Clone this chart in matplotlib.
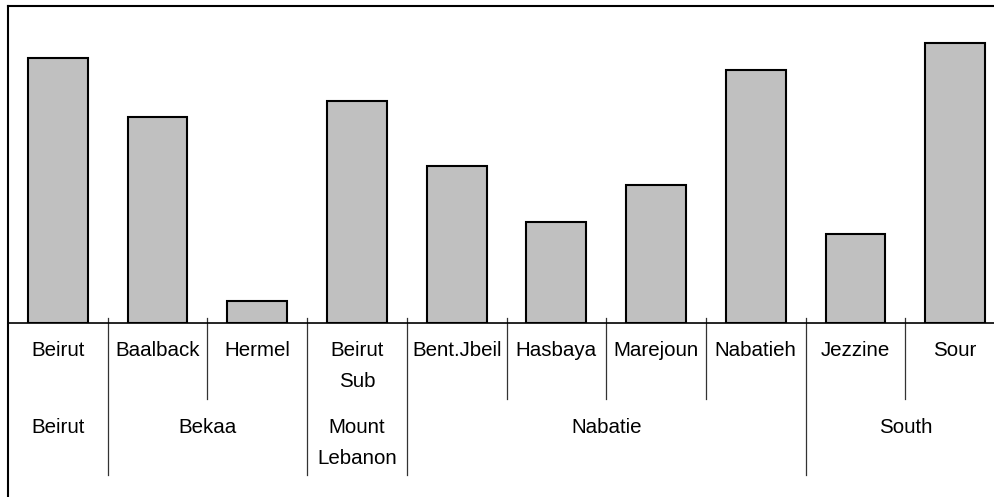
import matplotlib
matplotlib.use('Agg')
import matplotlib.pyplot as plt
from matplotlib.lines import Line2D
import matplotlib.transforms as mtransforms

plt.rcParams['font.family'] = ['Liberation Sans', 'DejaVu Sans']

# 数据
districts = ['Beirut', 'Baalback', 'Hermel', 'Beirut\nSub', 'Bent.Jbeil',
             'Hasbaya', 'Marejoun', 'Nabatieh', 'Jezzine', 'Sour']
values = [265, 206, 22, 222, 157, 101, 138, 253, 89, 280]
governorates = ['Beirut', 'Bekaa', 'Mount\nLebanon', 'Nabatie', 'South']
group_sizes = [1, 2, 1, 4, 2]

W, H = 994, 497
fig = plt.figure(figsize=(W / 100, H / 100), dpi=100)

# 坐标区：左边 x=8，基线 y=323，顶部 y=6（像素）
left_px, base_px, top_px = 8, 323, 6
cat_w = 99.7
ax = fig.add_axes([left_px / W, (H - base_px) / H,
                   len(districts) * cat_w / W, (base_px - top_px) / H])

x = list(range(len(districts)))
ax.bar(x, values, width=0.6, color='#c0c0c0', edgecolor='black', linewidth=1.5, zorder=3)
ax.set_xlim(-0.5, len(districts) - 0.5)
ax.set_ylim(0, base_px - top_px)

for s in ['left', 'right', 'top']:
    ax.spines[s].set_visible(False)
ax.spines['bottom'].set_linewidth(1.2)
ax.set_xticks([])
ax.set_yticks([])

def px_to_ax(ypx):
    return (base_px - ypx) / (base_px - top_px)

trans = mtransforms.blended_transform_factory(ax.transData, ax.transAxes)

# 分隔线
group_bounds = []
pos = 0
for n in group_sizes[:-1]:
    pos += n
    group_bounds.append(pos - 0.5)
for b in [i - 0.5 for i in range(1, len(districts))]:
    y_end = 475 if b in group_bounds else 399
    ax.plot([b, b], [px_to_ax(318), px_to_ax(y_end)], color='#333333', lw=0.9,
            transform=trans, clip_on=False)

# 标签
for i, name in enumerate(districts):
    ax.text(i, px_to_ax(341), name, ha='center', va='top', fontsize=14.8,
            linespacing=1.8, transform=trans)

start = 0
for g, n in zip(governorates, group_sizes):
    center = start + (n - 1) / 2
    ax.text(center, px_to_ax(418), g, ha='center', va='top', fontsize=14.8,
            linespacing=1.8, transform=trans)
    start += n

# 外框（左边和顶部）
fig.add_artist(Line2D([left_px / W, left_px / W], [0, (H - top_px) / H],
                      color='black', lw=1.5, transform=fig.transFigure))
fig.add_artist(Line2D([left_px / W, 1], [(H - top_px) / H, (H - top_px) / H],
                      color='black', lw=1.5, transform=fig.transFigure))

fig.savefig('out.png', dpi=100)
